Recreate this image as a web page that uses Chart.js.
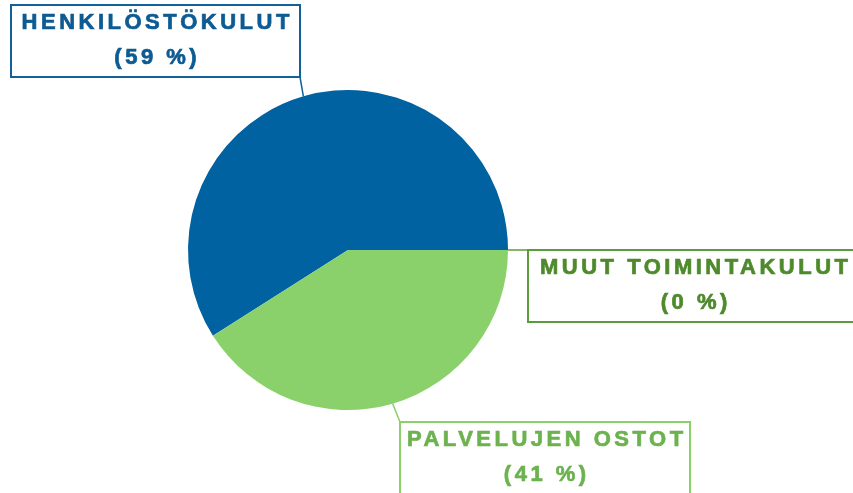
<!DOCTYPE html>
<html lang="fi">
<head>
  <meta charset="UTF-8">
  <title>Toimintakulut</title>
  <script src="https://cdn.jsdelivr.net/npm/chart.js"></script>
  <style>
    html, body { margin: 0; padding: 0; background: #fff; }
    #wrap { width: 853px; height: 493px; position: relative; }
  </style>
</head>
<body>
  <div id="wrap"><canvas id="kulut"></canvas></div>

  <script>
    const categories = ["HENKILÖSTÖKULUT", "MUUT TOIMINTAKULUT", "PALVELUJEN OSTOT"];
    const shares = [59, 0, 41];

    const sliceColors = ["#0062a1", "#5c9b3a", "#8bd16b"];
    const textColors = ["#0d5b93", "#4e8a2c", "#6cb24f"];
    const lineColors = ["#11609a", "#5c9b3a", "#8bd16b"];

    // callout boxes (left, top, width) and the corner the leader line runs to
    const boxes = [
      { x: 11, y: 5, w: 289, corner: "br" },
      { x: 528, y: 250, w: 332, corner: "tl" },
      { x: 400, y: 422, w: 290, corner: "tl" }
    ];
    const BOX_H = 72;
    const SPACING = 3.5;

    const total = shares.reduce((a, b) => a + b, 0);

    const callouts = {
      id: "callouts",
      afterDatasetsDraw(chart) {
        const ctx = chart.ctx;
        const arcs = chart.getDatasetMeta(0).data;
        ctx.save();
        arcs.forEach((arc, i) => {
          const p = arc.getProps(["x", "y", "startAngle", "endAngle", "outerRadius"], true);
          const mid = (p.startAngle + p.endAngle) / 2;
          const px = p.x + Math.cos(mid) * p.outerRadius;
          const py = p.y + Math.sin(mid) * p.outerRadius;
          const b = boxes[i];
          const cx = b.corner[1] === "r" ? b.x + b.w : b.x;
          const cy = b.corner[0] === "b" ? b.y + BOX_H : b.y;

          // leader line
          ctx.strokeStyle = lineColors[i];
          ctx.lineWidth = 1.5;
          ctx.beginPath();
          ctx.moveTo(px, py);
          ctx.lineTo(cx, cy);
          ctx.stroke();

          // box
          ctx.fillStyle = "#fff";
          ctx.fillRect(b.x, b.y, b.w, BOX_H);
          ctx.lineWidth = 2;
          ctx.strokeRect(b.x, b.y, b.w, BOX_H);

          // text, slightly stroked to get the heavy look
          const pct = Math.round(shares[i] / total * 100);
          ctx.fillStyle = textColors[i];
          ctx.strokeStyle = textColors[i];
          ctx.lineWidth = 0.7;
          ctx.font = 'bold 22px "Liberation Sans", Arial, sans-serif';
          ctx.letterSpacing = SPACING + "px";
          ctx.textAlign = "center";
          ctx.textBaseline = "middle";
          const tx = b.x + b.w / 2 + SPACING / 2;
          [[categories[i], b.y + 18], ["(" + pct + " %)", b.y + 53]].forEach(([t, ty]) => {
            ctx.fillText(t, tx, ty);
            ctx.strokeText(t, tx, ty);
          });
        });
        ctx.restore();
      }
    };

    new Chart(document.getElementById("kulut"), {
      type: "pie",
      data: {
        labels: categories,
        datasets: [{
          data: shares,
          backgroundColor: sliceColors,
          borderWidth: 0
        }]
      },
      options: {
        responsive: true,
        maintainAspectRatio: false,
        animation: false,
        events: [],
        // first slice ends at 3 o'clock, where the empty slice sits
        rotation: 90 - shares[0] / total * 360,
        layout: { padding: { left: 188, right: 345, top: 90, bottom: 83 } },
        plugins: {
          legend: { display: false },
          tooltip: { enabled: false }
        }
      },
      plugins: [callouts]
    });
  </script>
</body>
</html>
